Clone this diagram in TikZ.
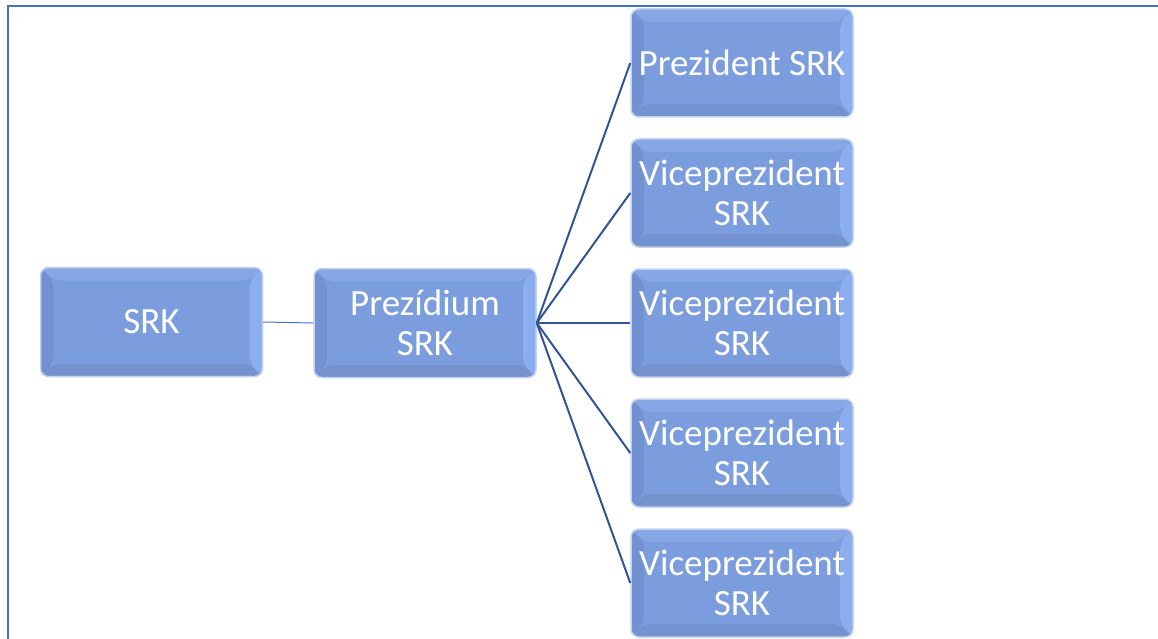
\documentclass[tikz,border=0pt]{standalone}
\usepackage{fontspec}
\setmainfont{Carlito}
\definecolor{boxblue}{RGB}{124,157,221}
\definecolor{bevtop}{RGB}{134,166,228}
\definecolor{bevright}{RGB}{140,174,240}
\definecolor{bevleft}{RGB}{114,145,208}
\definecolor{bevbot}{RGB}{116,146,206}
\definecolor{frameblue}{RGB}{68,114,196}
\definecolor{linkblue}{RGB}{47,85,151}
\definecolor{glow}{RGB}{195,210,238}
\tikzset{
  orgbox/.style={rounded corners=8pt, fill=boxblue, draw=glow, line width=1.5pt,
    minimum width=222pt, minimum height=109pt, inner sep=0pt,
    text=white, align=center, font=\fontsize{37}{40}\selectfont,
    path picture={
      \def\bw{13pt}
      \fill[bevtop] (path picture bounding box.north west) -- (path picture bounding box.north east)
        -- ([xshift=-\bw,yshift=-\bw]path picture bounding box.north east)
        -- ([xshift=\bw,yshift=-\bw]path picture bounding box.north west) -- cycle;
      \fill[bevbot] (path picture bounding box.south west) -- (path picture bounding box.south east)
        -- ([xshift=-\bw,yshift=\bw]path picture bounding box.south east)
        -- ([xshift=\bw,yshift=\bw]path picture bounding box.south west) -- cycle;
      \fill[bevleft] (path picture bounding box.north west) -- (path picture bounding box.south west)
        -- ([xshift=\bw,yshift=\bw]path picture bounding box.south west)
        -- ([xshift=\bw,yshift=-\bw]path picture bounding box.north west) -- cycle;
      \fill[bevright] (path picture bounding box.north east) -- (path picture bounding box.south east)
        -- ([xshift=-\bw,yshift=\bw]path picture bounding box.south east)
        -- ([xshift=-\bw,yshift=-\bw]path picture bounding box.north east) -- cycle;
    }},
  thinlink/.style={draw=frameblue, line width=1pt},
  link/.style={draw=linkblue, line width=2pt},
  frame/.style={draw=frameblue, line width=2pt}
}
\begin{document}
\begin{tikzpicture}[x=1pt,y=-1pt]
\useasboundingbox (0,0) rectangle (1158,639);
\coordinate (fa) at (7.5,660);
\coordinate (fb) at (7.5,6.5);
\coordinate (fc) at (1170,6.5);
\draw[frame] (fa) -- (fb) -- (fc);
\node[orgbox] (srk) at (151.5,322) {SRK};
\node[orgbox] (prez) at (425,323) {Prezídium\\SRK};
\node[orgbox, minimum height=108pt] (p1) at (742,63) {Prezident SRK};
\node[orgbox, minimum height=108pt] (v1) at (742,193) {Viceprezident\\SRK};
\node[orgbox, minimum height=108pt] (v2) at (742,323) {Viceprezident\\SRK};
\node[orgbox, minimum height=108pt] (v3) at (742,453) {Viceprezident\\SRK};
\node[orgbox, minimum height=108pt] (v4) at (742,583) {Viceprezident\\SRK};
\draw[thinlink] (srk.east) -- (prez.west);
\foreach \t in {p1,v1,v2,v3,v4} {\draw[link] (prez.east) -- (\t.west);}
\end{tikzpicture}
\end{document}
